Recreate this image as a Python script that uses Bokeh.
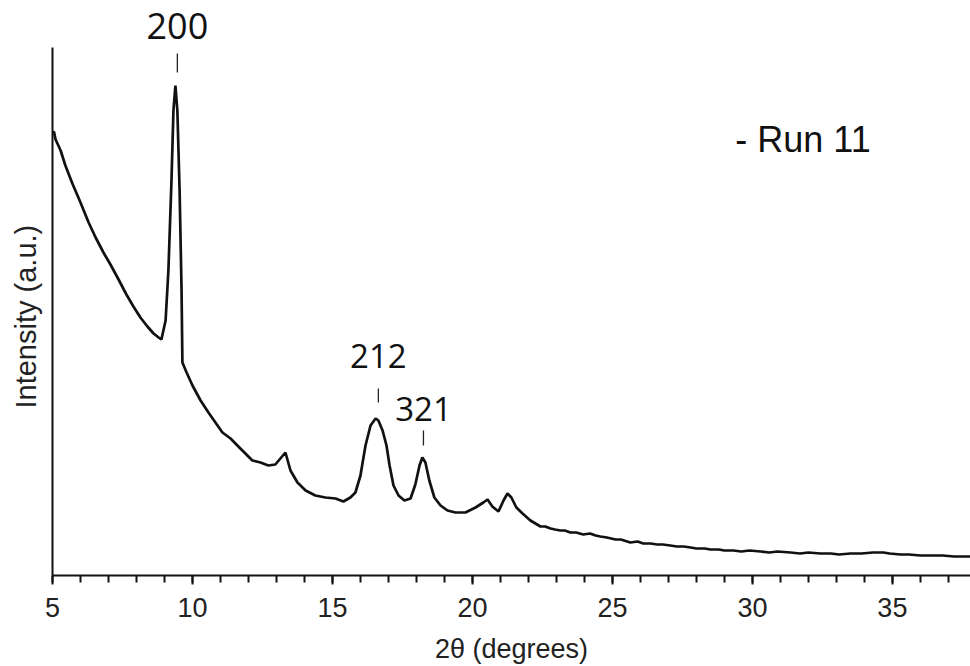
from bokeh.plotting import figure
from bokeh.models import Range1d, FixedTicker, Label, Title
from bokeh.embed import file_html
from bokeh.resources import INLINE

# XRD pattern (2-theta in degrees, intensity in a.u.)
two_theta = [5.00, 5.05, 5.11, 5.29, 5.46, 5.71, 6.00, 6.29, 6.54, 6.82, 7.07, 7.36, 7.64,
             7.89, 8.14, 8.39, 8.61, 8.79, 8.89, 9.04, 9.14, 9.25, 9.32, 9.39, 9.46,
             9.54, 9.61, 9.64, 9.79, 10.00, 10.29, 10.57, 10.82, 11.07, 11.36, 11.64,
             11.89, 12.14, 12.43, 12.71, 12.96, 13.14, 13.32, 13.50, 13.75, 14.04,
             14.39, 14.75, 15.11, 15.39, 15.64, 15.82, 16.00, 16.18, 16.36, 16.54,
             16.64, 16.79, 16.93, 17.04, 17.18, 17.36, 17.57, 17.79, 17.96, 18.11,
             18.21, 18.32, 18.46, 18.64, 18.86, 19.11, 19.39, 19.75, 20.11, 20.39,
             20.54, 20.71, 20.93, 21.11, 21.25, 21.39, 21.57, 21.79, 22.07, 22.25,
             22.43, 22.60, 22.79, 22.95, 23.14, 23.30, 23.50, 23.70, 23.96, 24.20,
             24.40, 24.57, 24.80, 25.11, 25.30, 25.64, 25.90, 26.10, 26.36, 26.60,
             26.80, 27.07, 27.30, 27.55, 27.79, 28.00, 28.30, 28.50, 28.80, 29.00,
             29.32, 29.60, 29.90, 30.29, 30.60, 30.90, 31.36, 31.70, 32.00, 32.43,
             32.80, 33.10, 33.50, 33.90, 34.30, 34.68, 34.90, 35.29, 35.60, 36.00,
             36.36, 36.80, 37.20, 37.79]
intensity = [442, 444, 436, 425, 410, 392, 373, 353, 338, 323, 311, 296, 281,
             269, 258, 249, 242, 238, 236, 255, 305, 395, 465, 490, 465,
             385, 285, 213, 203, 190, 175, 163, 153, 143, 137, 129,
             122, 115, 113, 110, 111, 117, 123, 105, 93, 85,
             80, 78, 77, 74, 78, 83, 100, 130, 150, 157,
             155, 145, 130, 110, 90, 80, 75, 77, 91, 110,
             118, 113, 95, 78, 70, 65, 63, 63, 68, 73,
             76, 69, 64, 75, 82, 78, 68, 62, 55, 52,
             49, 49, 47, 46, 45, 45, 43, 43, 41, 42,
             40, 39, 38, 36, 36, 33, 34, 32, 32, 31,
             31, 30, 29, 29, 28, 27, 27, 26, 26, 25,
             25, 24, 25, 24, 23, 24, 23, 22, 23, 22,
             22, 21, 22, 22, 23, 23, 22, 21, 21, 20,
             20, 20, 19, 19]

x_ticks = [5, 10, 15, 20, 25, 30, 35]

# peak annotations (Miller indices)
peak_labels = ["200", "212", "321"]
peak_x = [9.46, 16.64, 18.25]
peak_mark_low = [503, 173, 130]
peak_mark_high = [522, 187, 145]
peak_text_y = [550, 220, 167]
peak_text_size = ["36px", "33px", "33px"]

run_label = "- Run 11"
run_x, run_y = 29.39, 436

y_label = "Intensity (a.u.)"
x_label = "2θ (degrees)"

p = figure(width=970, height=666, output_backend="svg", toolbar_location=None,
           x_range=Range1d(5, 37.79), y_range=Range1d(0, 575),
           min_border_left=52, min_border_right=0, min_border_top=0,
           min_border_bottom=91)
p.outline_line_color = None
p.xgrid.visible = False
p.ygrid.visible = False
p.background_fill_color = "white"
p.border_fill_color = "white"

p.line(two_theta, intensity, line_color="#111111", line_width=2.7)
p.segment(x0=peak_x, y0=peak_mark_low, x1=peak_x, y1=peak_mark_high,
          line_color="#222222", line_width=1.3)

for lab, xx, yy, fs in zip(peak_labels, peak_x, peak_text_y, peak_text_size):
    p.add_layout(Label(x=xx, y=yy, text=lab, text_align="center",
                       text_baseline="alphabetic", text_font="Open Sans",
                       text_font_size=fs, text_color="#111111"))

p.add_layout(Label(x=run_x, y=run_y, text=run_label, text_align="left",
                   text_baseline="alphabetic", text_font="Liberation Sans",
                   text_font_size="36px", text_color="#111111"))

xa = p.xaxis[0]
xa.ticker = FixedTicker(ticks=x_ticks, minor_ticks=list(range(5, 38)))
xa.axis_label = x_label
xa.axis_label_text_font = "Liberation Sans"
xa.axis_label_text_font_style = "normal"
xa.axis_label_text_font_size = "27px"
xa.axis_label_text_color = "#222222"
xa.axis_label_standoff = 14
xa.major_label_text_font = "Liberation Sans"
xa.major_label_text_font_size = "27px"
xa.major_label_text_color = "#222222"
xa.major_label_standoff = 13
xa.axis_line_width = 2
xa.axis_line_color = "#111111"
xa.major_tick_line_width = 2
xa.minor_tick_line_width = 2
xa.major_tick_line_color = "#111111"
xa.minor_tick_line_color = "#111111"
xa.major_tick_out = 9
xa.major_tick_in = 0
xa.minor_tick_out = 7
xa.minor_tick_in = 0

ya = p.yaxis[0]
ya.bounds = (0, 528)
ya.ticker = FixedTicker(ticks=[])
ya.major_tick_line_color = None
ya.minor_tick_line_color = None
ya.major_tick_out = 0
ya.major_label_standoff = 0
ya.axis_line_width = 2
ya.axis_line_color = "#111111"

# y-axis caption, placed beside the axis (rotated)
p.add_layout(Title(text=y_label, align="left", offset=167, standoff=18,
                   vertical_align="top",
                   text_font="Liberation Sans", text_font_style="normal",
                   text_font_size="29px", text_color="#222222"), "left")

open("out.html", "w").write(file_html(p, INLINE))
